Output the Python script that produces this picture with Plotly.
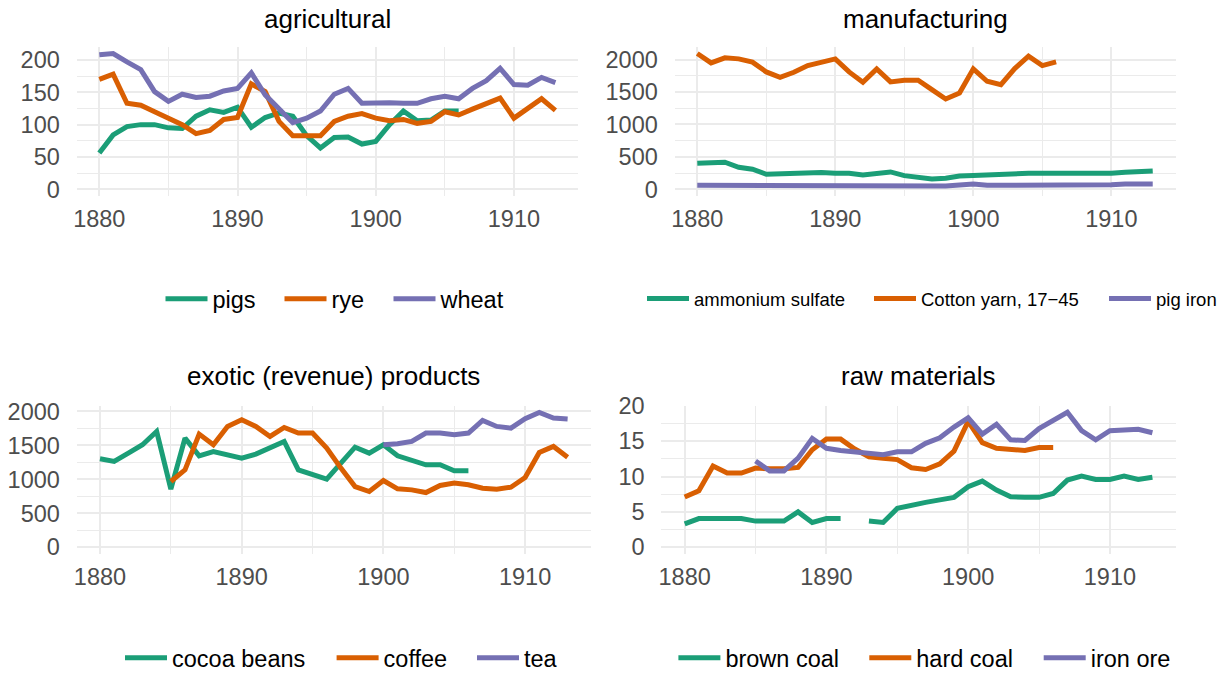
import plotly.graph_objects as go

# ---------------- data ----------------
years = list(range(1880, 1914))
years_to_1906 = list(range(1880, 1907))
years_from_1885 = list(range(1885, 1914))
years_from_1900 = list(range(1900, 1914))

# agricultural
pigs = [56, 84, 97, 100, 100, 95, 94, 113, 123, 119, 127, 96, 111, 118, 113, 83, 64,
        80, 81, 70, 74, 100, 121, 106, 107, 121, 121]
rye = [170, 178, 133, 130, 120, 111, 100, 86, 91, 108, 111, 163, 151, 105, 83, 83, 83,
       105, 113, 117, 110, 106, 108, 102, 105, 120, 115, 124, 133, 141, 110, 124, 140, 122]
wheat = [208, 210, 197, 185, 151, 136, 147, 142, 144, 152, 156, 180, 146, 125, 103, 110,
         121, 147, 156, 133, 134, 134, 133, 133, 140, 144, 140, 156, 168, 187, 162, 161,
         173, 165]

# manufacturing
ammonium_sulfate = [402, 412, 418, 340, 309, 232, 237, 247, 258, 258, 247, 247, 222, 247,
                    268, 211, 180, 160, 170, 206, 211, 222, 232, 237, 247, 247, 247, 247,
                    237, 237, 247, 263, 273, 283]
cotton_yarn = [2093, 1948, 2026, 2010, 1959, 1809, 1727, 1804, 1907, 1964, 2010, 1809, 1649,
               1856, 1655, 1680, 1680, 1536, 1392, 1485, 1856, 1665, 1613, 1861, 2052, 1907,
               1964]
pig_iron = [62, 62, 62, 57, 52, 46, 46, 46, 46, 62, 62, 57, 52, 52, 52, 52, 52, 52, 52, 67,
            82, 62, 62, 62, 62, 67, 72, 77, 67, 67, 72, 82, 82, 82]

# exotic (revenue) products
cocoa_beans = [1302, 1263, 1386, 1509, 1705, 855, 1607, 1347, 1410, 1361, 1312, 1371, 1460,
               1558, 1140, 1066, 1002, 1238, 1474, 1386, 1509, 1347, 1278, 1214, 1214, 1125,
               1125]
coffee = [968, 1140, 1666, 1509, 1779, 1877, 1779, 1631, 1764, 1681, 1681, 1460, 1165, 894,
          821, 983, 860, 845, 806, 909, 944, 919, 870, 855, 884, 1027, 1396, 1484, 1327]
tea = [1509, 1523, 1558, 1681, 1681, 1656, 1681, 1867, 1779, 1754, 1892, 1985, 1902, 1887]

# raw materials
brown_coal = [3.3, 4.05, 4.05, 4.05, 4.05, 3.7, 3.7, 3.7, 5.0, 3.5, 4.05, 4.05, None, 3.7,
              3.5, 5.5, 6.0, 6.35, 6.7, 7.06, 8.56, 9.36, 8.1, 7.15, 7.06, 7.06, 7.6, 9.5,
              10.07, 9.6, 9.6, 10.07, 9.6, 9.9]
hard_coal = [7.1, 8.0, 11.5, 10.5, 10.5, 11.2, 11.1, 11.1, 11.3, 13.8, 15.3, 15.3, 13.9,
             12.8, 12.6, 12.4, 11.25, 11.0, 11.8, 13.6, 17.8, 14.8, 14.0, 13.9, 13.7, 14.1,
             14.1]
iron_ore = [12.2, 10.8, 10.8, 12.6, 15.4, 14.0, 13.7, 13.5, 13.3, 13.1, 13.5, 13.5, 14.7,
            15.5, 17.0, 18.3, 16.0, 17.4, 15.2, 15.1, 16.8, 18.0, 19.1, 16.5, 15.2, 16.5,
            16.6, 16.7, 16.2]

panel_titles = ["agricultural", "manufacturing", "exotic (revenue) products", "raw materials"]
x_ticks = [1880, 1890, 1900, 1910]

# ---------------- style ----------------
W, H = 1228, 673
GREEN, ORANGE, PURPLE = "#1B9E77", "#D95F02", "#7570B3"
FONT = "Liberation Sans"
GRID = "#EBEBEB"

# per panel: plot-area box (px), legend row y (px), legend swatch centres (px)
panels = [
    dict(title=panel_titles[0], xdom=(76.5, 578.2), ydom=(46.7, 196.1), dtick=50,
         series=[("pigs", years_to_1906, pigs, GREEN),
                 ("rye", years, rye, ORANGE),
                 ("wheat", years, wheat, PURPLE)],
         leg_y=299, leg_x=(174.5, 293.5, 402.5), legend_size=23.5, title_y=19),
    dict(title=panel_titles[1], xdom=(674.5, 1175.5), ydom=(46.7, 196.1), dtick=500,
         series=[("ammonium sulfate", years, ammonium_sulfate, GREEN),
                 ("Cotton yarn, 17\u221245", years_to_1906, cotton_yarn, ORANGE),
                 ("pig iron", years, pig_iron, PURPLE)],
         leg_y=299, leg_x=(656, 883, 1118), legend_size=18.5, title_y=19),
    dict(title=panel_titles[2], xdom=(76.6, 591.0), ydom=(405.7, 554.0), dtick=500,
         series=[("cocoa beans", years_to_1906, cocoa_beans, GREEN),
                 ("coffee", years_from_1885, coffee, ORANGE),
                 ("tea", years_from_1900, tea, PURPLE)],
         leg_y=658, leg_x=(134, 345.6, 486), legend_size=23.5, title_y=376),
    dict(title=panel_titles[3], xdom=(661.3, 1175.8), ydom=(405.5, 554.0), dtick=5,
         series=[("brown coal", years, brown_coal, GREEN),
                 ("hard coal", years_to_1906, hard_coal, ORANGE),
                 ("iron ore", years_from_1885, iron_ore, PURPLE)],
         leg_y=658, leg_x=(687.4, 878.3, 1052.7), legend_size=23.5, title_y=376),
]

fig = go.Figure()
annotations = []
layout = {}

xmin, xmax = min(years), max(years)
xpad = (xmax - xmin) * 0.05
leg_count = 0

for i, p in enumerate(panels, start=1):
    sfx = "" if i == 1 else str(i)
    vals = [v for _, _, ys, _ in p["series"] for v in ys if v is not None]
    ylo, yhi = min(0, min(vals)), max(vals)
    ypad = (yhi - ylo) * 0.05
    for (name, xs, ys, col), cx in zip(p["series"], p["leg_x"]):
        leg_count += 1
        leg = "legend" if leg_count == 1 else f"legend{leg_count}"
        fig.add_trace(go.Scatter(
            x=xs, y=ys, name=name, mode="lines",
            line=dict(color=col, width=5),
            xaxis=f"x{sfx}", yaxis=f"y{sfx}", legend=leg,
            connectgaps=False, hoverinfo="x+y+name"))
        layout[leg] = dict(
            orientation="h", xref="container", yref="container",
            x=(cx - 14) / W, y=1 - p["leg_y"] / H,
            xanchor="left", yanchor="middle", bgcolor="rgba(0,0,0,0)",
            borderwidth=0,
            font=dict(family=FONT, size=p["legend_size"], color="#000000"),
            itemwidth=42, itemclick=False, itemdoubleclick=False)
    layout[f"xaxis{sfx}"] = dict(
        domain=[p["xdom"][0] / W, p["xdom"][1] / W],
        anchor=f"y{sfx}", range=[xmin - xpad, xmax + xpad],
        tickmode="array", tickvals=x_ticks, ticktext=[str(t) for t in x_ticks],
        showgrid=True, gridcolor=GRID, gridwidth=2.2,
        minor=dict(dtick=5, tick0=1875, showgrid=True, gridcolor=GRID, gridwidth=1.1),
        zeroline=False, showline=False, automargin=False,
        ticks="outside", ticklen=2, tickcolor="rgba(0,0,0,0)",
        tickfont=dict(family=FONT, size=23.5, color="#4D4D4D"))
    layout[f"yaxis{sfx}"] = dict(
        domain=[1 - p["ydom"][1] / H, 1 - p["ydom"][0] / H],
        anchor=f"x{sfx}", range=[ylo - ypad, yhi + ypad],
        tick0=0, dtick=p["dtick"],
        showgrid=True, gridcolor=GRID, gridwidth=2.2,
        minor=dict(dtick=p["dtick"] / 2, showgrid=True, gridcolor=GRID, gridwidth=1.1),
        zeroline=False, showline=False, automargin=False,
        ticks="outside", ticklen=11, tickcolor="rgba(0,0,0,0)",
        tickfont=dict(family=FONT, size=23.5, color="#4D4D4D"))
    annotations.append(dict(
        text=p["title"], xref="paper", yref="paper",
        x=(p["xdom"][0] + p["xdom"][1]) / 2 / W, y=1 - p["title_y"] / H,
        xanchor="center", yanchor="middle", showarrow=False,
        font=dict(family=FONT, size=26, color="#000000")))

fig.update_layout(
    width=W, height=H, autosize=False,
    margin=dict(l=0, r=0, t=0, b=0, pad=0, autoexpand=False),
    paper_bgcolor="white", plot_bgcolor="white",
    showlegend=True, annotations=annotations,
    font=dict(family=FONT),
    **layout)

fig.write_html(
    "out.html", include_plotlyjs=True, config={"displayModeBar": False},
    post_script="document.body.style.margin='0';document.body.style.padding='0';")
